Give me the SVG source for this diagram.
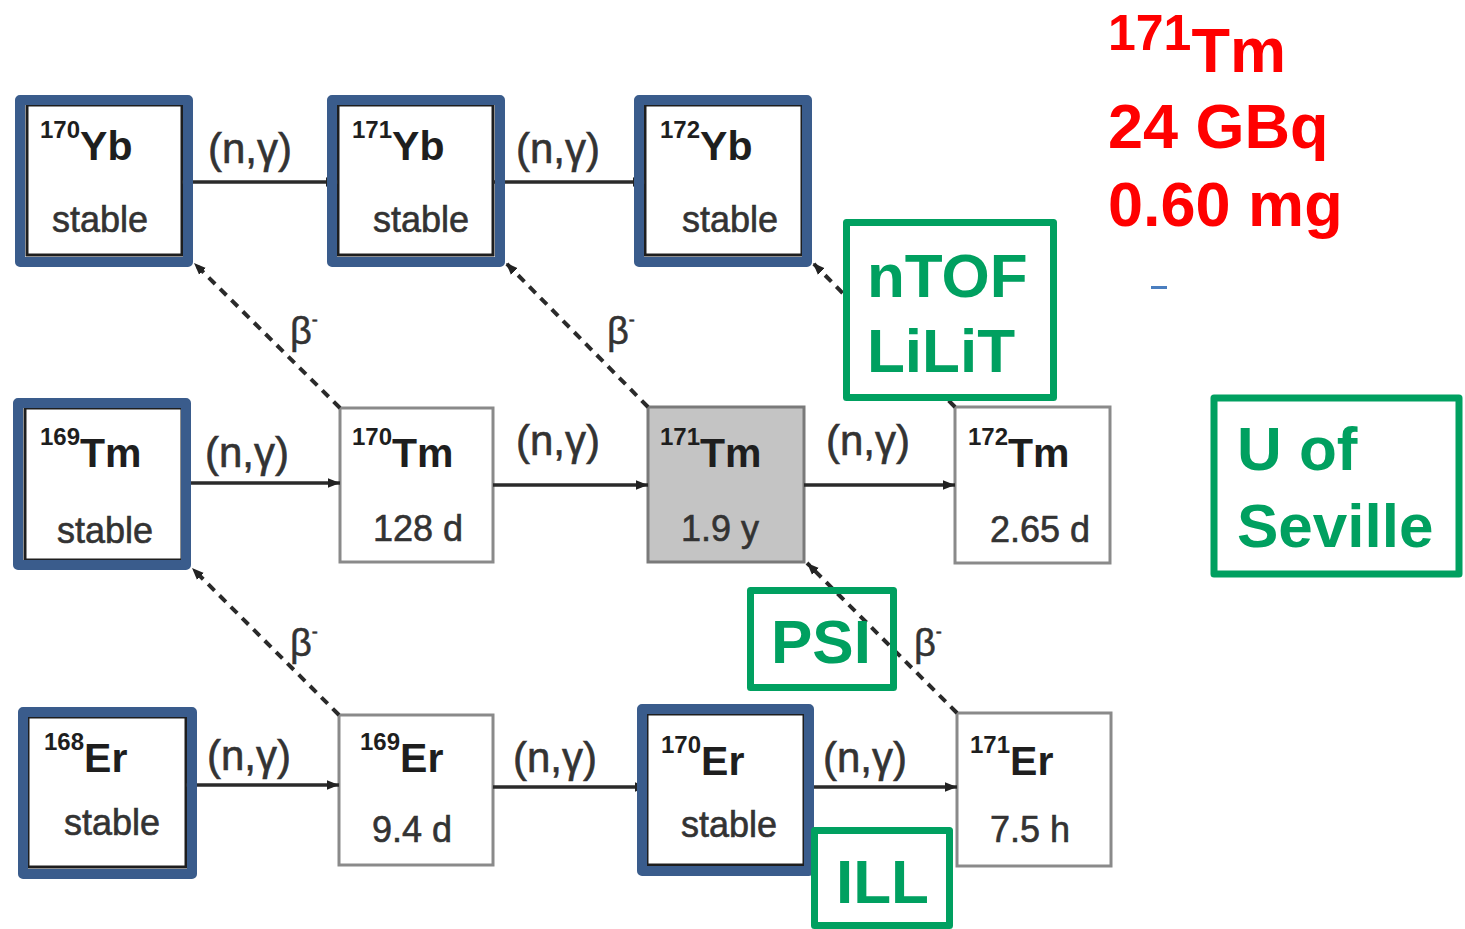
<svg xmlns="http://www.w3.org/2000/svg" width="1465" height="929" viewBox="0 0 1465 929">
<style>
  .bx{fill:#fff;stroke:#8a8a8a;stroke-width:3}
  .bk{fill:#fff;stroke:#1e1e1e;stroke-width:3}
  .blue{fill:none;stroke:#3a5c8c;stroke-width:10;stroke-linejoin:round}
  .grn{stroke:#00a060;stroke-width:7;stroke-linejoin:round}
  .el{font-family:"Liberation Sans",Arial,sans-serif;font-weight:bold;fill:#1e1e1e}
  .hl{font-family:"Liberation Sans",Arial,sans-serif;font-size:36px;fill:#333;stroke:#333;stroke-width:0.6;text-anchor:middle}
  .ng{font-family:"Liberation Sans",Arial,sans-serif;font-size:42px;fill:#333;stroke:#333;stroke-width:0.6}
  .beta{font-family:"Liberation Sans",Arial,sans-serif;font-size:38px;fill:#333;stroke:#333;stroke-width:0.5}
  .gt{font-family:"Liberation Sans",Arial,sans-serif;font-weight:bold;font-size:62px;fill:#00a060}
  .rt{font-family:"Liberation Sans",Arial,sans-serif;font-weight:bold;fill:#ff0000}
  .solid{stroke:#2a2a2a;stroke-width:3.5;fill:none;marker-end:url(#ah)}
  .dash{stroke:#2a2a2a;stroke-width:4;fill:none;stroke-dasharray:9 7;marker-end:url(#ah)}
</style>
<defs>
  <marker id="ah" viewBox="0 0 10 10" refX="10" refY="5" markerWidth="12" markerHeight="12" markerUnits="userSpaceOnUse" orient="auto">
    <path d="M0,1 L10,5 L0,9 z" fill="#222"/>
  </marker>
</defs>
<rect width="1465" height="929" fill="#fff"/>

<!-- nuclide boxes -->
<g id="Yb170"><rect class="bk" x="27" y="105" width="155" height="150"/>
  <text class="el" x="40" y="160"><tspan font-size="24" dy="-22">170</tspan><tspan font-size="41" dy="22">Yb</tspan></text>
  <text class="hl" x="100" y="232">stable</text></g>
<g id="Yb171"><rect class="bk" x="338" y="105" width="155" height="150"/>
  <text class="el" x="352" y="160"><tspan font-size="24" dy="-22">171</tspan><tspan font-size="41" dy="22">Yb</tspan></text>
  <text class="hl" x="421" y="232">stable</text></g>
<g id="Yb172"><rect class="bk" x="645" y="105" width="157" height="150"/>
  <text class="el" x="660" y="160"><tspan font-size="24" dy="-22">172</tspan><tspan font-size="41" dy="22">Yb</tspan></text>
  <text class="hl" x="730" y="232">stable</text></g>

<g id="Tm169"><rect class="bk" x="25" y="408" width="157" height="152"/>
  <text class="el" x="40" y="467"><tspan font-size="24" dy="-22">169</tspan><tspan font-size="41" dy="22">Tm</tspan></text>
  <text class="hl" x="105" y="543">stable</text></g>
<g id="Tm170"><rect class="bx" x="340" y="408" width="153" height="154"/>
  <text class="el" x="352" y="467"><tspan font-size="24" dy="-22">170</tspan><tspan font-size="41" dy="22">Tm</tspan></text>
  <text class="hl" x="418" y="541">128 d</text></g>
<g id="Tm171"><rect x="648" y="407" width="156" height="155" fill="#c4c4c4" stroke="#7a7a7a" stroke-width="3"/>
  <text class="el" x="660" y="467"><tspan font-size="24" dy="-22">171</tspan><tspan font-size="41" dy="22">Tm</tspan></text>
  <text class="hl" x="720" y="541">1.9 y</text></g>
<g id="Tm172"><rect class="bx" x="955" y="407" width="155" height="156"/>
  <text class="el" x="968" y="467"><tspan font-size="24" dy="-22">172</tspan><tspan font-size="41" dy="22">Tm</tspan></text>
  <text class="hl" x="1040" y="542">2.65 d</text></g>

<g id="Er168"><rect class="bk" x="28" y="717" width="158" height="150"/>
  <text class="el" x="44" y="772"><tspan font-size="24" dy="-22">168</tspan><tspan font-size="41" dy="22">Er</tspan></text>
  <text class="hl" x="112" y="835">stable</text></g>
<g id="Er169"><rect class="bx" x="339" y="715" width="154" height="150"/>
  <text class="el" x="360" y="772"><tspan font-size="24" dy="-22">169</tspan><tspan font-size="41" dy="22">Er</tspan></text>
  <text class="hl" x="412" y="842">9.4 d</text></g>
<g id="Er170"><rect class="bk" x="647" y="714" width="157" height="151"/>
  <text class="el" x="661" y="775"><tspan font-size="24" dy="-22">170</tspan><tspan font-size="41" dy="22">Er</tspan></text>
  <text class="hl" x="729" y="837">stable</text></g>
<g id="Er171"><rect class="bx" x="957" y="713" width="154" height="153"/>
  <text class="el" x="970" y="775"><tspan font-size="24" dy="-22">171</tspan><tspan font-size="41" dy="22">Er</tspan></text>
  <text class="hl" x="1030" y="842">7.5 h</text></g>

<!-- connectors -->
<g id="connectors">
  <line class="solid" x1="182" y1="182" x2="338" y2="182"/>
  <line class="solid" x1="493" y1="182" x2="645" y2="182"/>
  <line class="solid" x1="182" y1="483" x2="340" y2="483"/>
  <line class="solid" x1="493" y1="485" x2="648" y2="485"/>
  <line class="solid" x1="804" y1="485" x2="955" y2="485"/>
  <line class="solid" x1="186" y1="785" x2="339" y2="785"/>
  <line class="solid" x1="493" y1="787" x2="647" y2="787"/>
  <line class="solid" x1="804" y1="787" x2="957" y2="787"/>
  <line class="dash" x1="340" y1="408" x2="194" y2="263"/>
  <line class="dash" x1="648" y1="407" x2="506" y2="263"/>
  <line class="dash" x1="955" y1="407" x2="813" y2="263"/>
  <line class="dash" x1="339" y1="715" x2="192" y2="568"/>
  <line class="dash" x1="957" y1="713" x2="807" y2="563"/>
  <text class="ng" x="208" y="163">(n,γ)</text>
  <text class="ng" x="516" y="163">(n,γ)</text>
  <text class="ng" x="205" y="467">(n,γ)</text>
  <text class="ng" x="516" y="455" font-size="37">(n,γ)</text>
  <text class="ng" x="826" y="455" font-size="37">(n,γ)</text>
  <text class="ng" x="207" y="770">(n,γ)</text>
  <text class="ng" x="513" y="772">(n,γ)</text>
  <text class="ng" x="823" y="772">(n,γ)</text>
  <text class="beta" x="290" y="344">β<tspan font-size="18" dy="-18">-</tspan></text>
  <text class="beta" x="607" y="344">β<tspan font-size="18" dy="-18">-</tspan></text>
  <text class="beta" x="290" y="656">β<tspan font-size="18" dy="-18">-</tspan></text>
  <text class="beta" x="914" y="656">β<tspan font-size="18" dy="-18">-</tspan></text>
</g>

<!-- blue highlight frames -->
<g id="stable-highlights">
  <rect class="blue" x="20" y="100" width="168" height="162"/>
  <rect class="blue" x="332" y="100" width="168" height="162"/>
  <rect class="blue" x="639" y="100" width="168" height="162"/>
  <rect class="blue" x="18" y="403" width="168" height="162"/>
  <rect class="blue" x="23" y="712" width="169" height="162"/>
  <rect class="blue" x="642" y="709" width="167" height="162"/>
</g>

<!-- facility labels -->
<g id="nTOF"><rect class="grn" x="846.5" y="222.5" width="207" height="175" fill="#fff"/>
  <text class="gt" x="867" y="297">nTOF</text>
  <text class="gt" x="867" y="372">LiLiT</text></g>
<g id="PSI"><rect class="grn" x="750.5" y="590.5" width="143" height="97" fill="none"/>
  <text class="gt" x="771" y="663">PSI</text></g>
<g id="ILL"><rect class="grn" x="814.5" y="830.5" width="135" height="95" fill="#fff"/>
  <text class="gt" x="836" y="903">ILL</text></g>
<g id="Seville"><rect class="grn" x="1214" y="398" width="245" height="176" fill="#fff"/>
  <text class="gt" x="1237" y="470">U of</text>
  <text class="gt" x="1237" y="547">Seville</text></g>

<!-- sample info -->
<g id="sample">
  <text class="rt" x="1108" y="72"><tspan font-size="50" dy="-22">171</tspan><tspan font-size="63" dy="22">Tm</tspan></text>
  <text class="rt" x="1108" y="148" font-size="63">24 GBq</text>
  <text class="rt" x="1108" y="226" font-size="63">0.60 mg</text>
  <rect x="1151" y="286" width="16" height="3" fill="#4a7ebf"/>
</g>
</svg>
